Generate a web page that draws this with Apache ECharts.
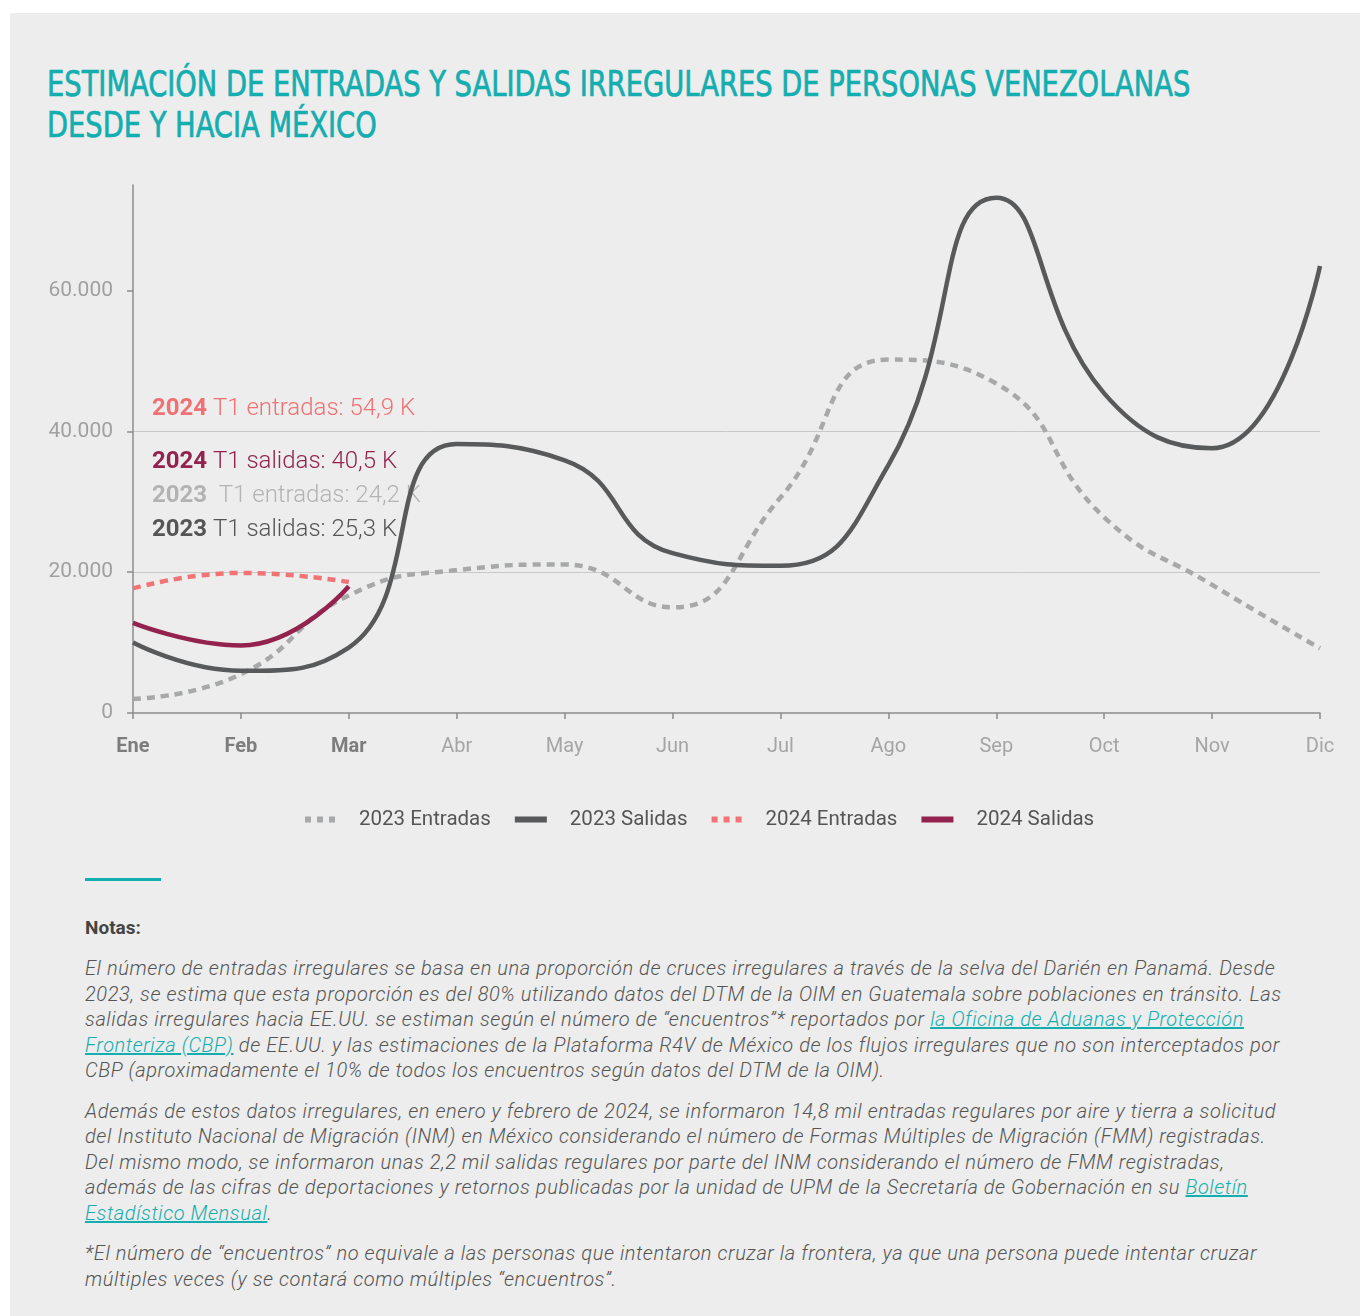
<!DOCTYPE html>
<html>
<head>
<meta charset="utf-8">
<script src="https://cdn.jsdelivr.net/npm/echarts@6/dist/echarts.min.js"></script>
<style>
  body { margin: 0; background: #fff; width: 1360px; height: 1316px; position: relative; overflow: hidden; }
  #panel { position: absolute; left: 10px; top: 13px; width: 1350px; height: 1303px; background: #ecedec; }
  #title { position: absolute; left: 47px; top: 64px; color: #14adb0; font-family: "Liberation Sans Narrow", "DejaVu Sans Condensed", sans-serif; font-weight: normal; -webkit-text-stroke: 0.7px #14adb0; font-size: 35px; line-height: 41px; white-space: nowrap; transform-origin: 0 0; }
  #chart { position: absolute; left: 0; top: 0; width: 1360px; height: 860px; }
  #rule { position: absolute; left: 85px; top: 878px; width: 76px; height: 3px; background: #14adb0; }
  #notes { position: absolute; left: 85px; top: 914px; color: #555; font-family: Roboto, sans-serif; font-size: 20px; }
  #notes h4 { margin: 0 0 14px 0; font-size: 19px; font-weight: bold; color: #444; line-height: 28px; }
  #notes p { margin: 0 0 15px 0; font-style: italic; font-weight: 300; line-height: 25.5px; white-space: nowrap; letter-spacing: 0.57px; }
  #notes a { color: #14adb0; text-decoration: underline; }
</style>
</head>
<body>
<div id="panel"></div>
<div id="title">ESTIMACIÓN DE ENTRADAS Y SALIDAS IRREGULARES DE PERSONAS VENEZOLANAS<br>DESDE Y HACIA MÉXICO</div>
<div id="chart"></div>
<div id="rule"></div>
<div id="notes">
  <h4>Notas:</h4>
  <p>El número de entradas irregulares se basa en una proporción de cruces irregulares a través de la selva del Darién en Panamá. Desde<br>
  2023, se estima que esta proporción es del 80% utilizando datos del DTM de la OIM en Guatemala sobre poblaciones en tránsito. Las<br>
  salidas irregulares hacia EE.UU. se estiman según el número de “encuentros”* reportados por <a>la Oficina de Aduanas y Protección </a><br>
  <a>Fronteriza (CBP)</a> de EE.UU. y las estimaciones de la Plataforma R4V de México de los flujos irregulares que no son interceptados por<br>
  CBP (aproximadamente el 10% de todos los encuentros según datos del DTM de la OIM).</p>
  <p>Además de estos datos irregulares, en enero y febrero de 2024, se informaron 14,8 mil entradas regulares por aire y tierra a solicitud<br>
  del Instituto Nacional de Migración (INM) en México considerando el número de Formas Múltiples de Migración (FMM) registradas.<br>
  Del mismo modo, se informaron unas 2,2 mil salidas regulares por parte del INM considerando el número de FMM registradas,<br>
  además de las cifras de deportaciones y retornos publicadas por la unidad de UPM de la Secretaría de Gobernación en su <a>Boletín </a><br>
  <a>Estadístico Mensual</a>.</p>
  <p>*El número de “encuentros” no equivale a las personas que intentaron cruzar la frontera, ya que una persona puede intentar cruzar<br>
  múltiples veces (y se contará como múltiples “encuentros”.</p>
</div>
<script>
// meses y datos
var months = ['Ene', 'Feb', 'Mar', 'Abr', 'May', 'Jun', 'Jul', 'Ago', 'Sep', 'Oct', 'Nov', 'Dic'];
var boldMonths = ['Ene', 'Feb', 'Mar'];
var entradas2023 = [2000, 5500, 16700, 20300, 21100, 15000, 30600, 50200, 46800, 27800, 18200, 9200];
var salidas2023 = [10000, 6000, 9300, 38200, 35900, 22700, 20900, 35200, 73200, 45400, 37600, 63500];
var entradas2024 = [17700, 19900, 18600];
var salidas2024 = [12800, 9600, 18000];
var yTicks = [0, 20000, 40000, 60000];
var yMax = 75000;
var notes = [
    ['2024', ' T1 entradas: 54,9 K', '#f07073', '#f07073'],
    ['2024', ' T1 salidas: 40,5 K', '#93224f', '#93224f'],
    ['2023', '  T1 entradas: 24,2 K', '#b3b3b3', '#b3b3b3'],
    ['2023', ' T1 salidas: 25,3 K', '#555555', '#555555']
];
var noteTops = [397, 450, 484, 518];

function fmt(v)
{
    return String(v).replace(/\B(?=(\d{3})+(?!\d))/g, '.');
}

// ajustar título al ancho original
var title = document.getElementById('title');
title.style.transform = 'scaleX(' + (1143 / title.scrollWidth) + ')';

var myChart = echarts.init(document.getElementById('chart'));

var graphics = [];
for (var i = 0; i < notes.length; i++) {
    graphics.push({
        type : 'text',
        left : 152,
        top  : noteTops[i],
        style : {
            text : '{b|' + notes[i][0] + '}{n|' + notes[i][1] + '}',
            rich : {
                b : {fontFamily: 'Roboto', fontSize: 24, fontWeight: 'bold', fill: notes[i][2]},
                n : {fontFamily: 'Roboto', fontSize: 24, fontWeight: 300, fill: notes[i][3]}
            }
        }
    });
}

var lineStyles = {
    e23 : {color: '#a7a8aa', width: 4.5, type: [8, 6]},
    s23 : {color: '#58595b', width: 4.5, type: 'solid'},
    e24 : {color: '#f27375', width: 4.5, type: [8, 6]},
    s24 : {color: '#93224f', width: 4.5, type: 'solid'}
};
var dotIcon = 'path://M0,0h6v6h-6z M12,0h6v6h-6z M24,0h6v6h-6z';
var barIcon = 'path://M0,0h32v6h-32z';

var options =
{
    animation : false,
    textStyle : {fontFamily: 'Roboto'},
    grid : {left: 133, right: 40, top: 185, bottom: 147},
    legend : {
        left : 300,
        top  : 804,
        itemWidth : 32,
        itemHeight : 6,
        itemGap : 24,
        textStyle : {fontSize: 20.5, color: '#555', padding: [0, 0, 0, 18]},
        data : [
            {name: '2023 Entradas', icon: dotIcon},
            {name: '2023 Salidas', icon: barIcon},
            {name: '2024 Entradas', icon: dotIcon},
            {name: '2024 Salidas', icon: barIcon}
        ]
    },
    xAxis : {
        type : 'category',
        boundaryGap : false,
        data : months,
        axisLine : {lineStyle: {color: '#8c8c8c', width: 1.5}},
        axisTick : {length: 6, lineStyle: {color: '#8c8c8c', width: 1.5}},
        axisLabel : {
            margin : 24,
            formatter : function (v) {
                return boldMonths.indexOf(v) >= 0 ? '{b|' + v + '}' : '{n|' + v + '}';
            },
            rich : {
                b : {fontSize: 20, fontWeight: 'bold', color: '#7d7d7d'},
                n : {fontSize: 20, color: '#a5a5a5'}
            }
        }
    },
    yAxis : {
        type : 'value',
        min : 0,
        max : yMax,
        interval : 20000,
        axisLine : {show: true, lineStyle: {color: '#8c8c8c', width: 1.5}},
        axisTick : {show: true, length: 6, customValues: yTicks, lineStyle: {color: '#8c8c8c', width: 1.5}},
        axisLabel : {margin: 20, fontSize: 21, color: '#a0a0a0', customValues: yTicks, formatter: fmt},
        splitLine : {show: true, showMinLine: false, showMaxLine: false, lineStyle: {color: '#c8c8c8', width: 1}}
    },
    graphic : graphics,
    series : [
        {name: '2023 Entradas', type: 'line', data: entradas2023, smooth: 0.5, symbol: 'none', lineStyle: lineStyles.e23, itemStyle: {color: lineStyles.e23.color}},
        {name: '2023 Salidas', type: 'line', data: salidas2023, smooth: 0.5, symbol: 'none', lineStyle: lineStyles.s23, itemStyle: {color: lineStyles.s23.color}},
        {name: '2024 Entradas', type: 'line', data: entradas2024, smooth: 0.5, symbol: 'none', lineStyle: lineStyles.e24, itemStyle: {color: lineStyles.e24.color}},
        {name: '2024 Salidas', type: 'line', data: salidas2024, smooth: 0.5, symbol: 'none', lineStyle: lineStyles.s24, itemStyle: {color: lineStyles.s24.color}}
    ]
};
myChart.setOption(options);
</script>
</body>
</html>
